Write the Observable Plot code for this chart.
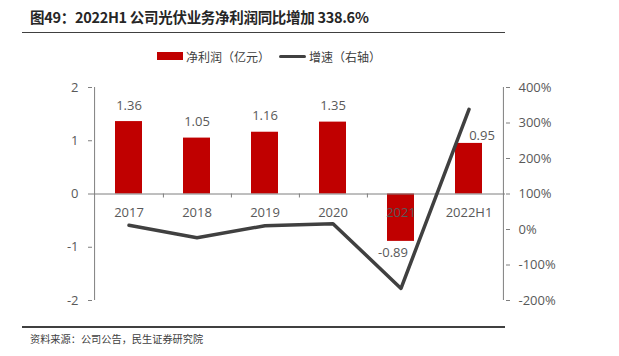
<!DOCTYPE html>
<html><head><meta charset="utf-8">
<script src="https://cdn.jsdelivr.net/npm/d3@7"></script>
<script src="https://cdn.jsdelivr.net/npm/@observablehq/plot@0.6"></script>
<style>
body{margin:0;background:#fff;font-family:"Open Sans","Noto Sans CJK SC",sans-serif;}
#wrap{position:relative;width:619px;height:356px;overflow:hidden;background:#fff}
#title{position:absolute;left:30px;top:6px;font-size:14.5px;font-weight:bold;color:#262626;white-space:nowrap;font-family:"Noto Sans CJK SC","Open Sans",sans-serif;letter-spacing:-0.3px}
.hr{position:absolute;left:22px;width:483px;height:1.5px;background:#404040}
#legend{position:absolute;top:48px;left:0;width:619px;height:18px;font-size:12px;color:#404040;font-family:"Noto Sans CJK SC",sans-serif}
.sw{position:absolute}
.lt{position:absolute;top:0;line-height:18px;white-space:nowrap}
#source{position:absolute;left:30px;top:331px;font-size:10.2px;color:#404040;font-family:"Noto Sans CJK SC",sans-serif;white-space:nowrap}
#chart{position:absolute;left:0;top:0}
</style>
</head><body><div id="wrap">
<div id="title">图49：2022H1 公司光伏业务净利润同比增加 338.6%</div>
<div class="hr" style="top:31.5px"></div>
<div id="chart"></div>
<div id="legend">
  <div class="sw" style="left:157px;top:4px;width:26px;height:8px;background:#C00000"></div>
  <div class="lt" style="left:186px" id="l1"></div>
  <div class="sw" style="left:279px;top:6.5px;width:27px;height:3.5px;border-radius:2px;background:#404040"></div>
  <div class="lt" style="left:309px" id="l2"></div>
</div>
<div class="hr" style="top:326px"></div>
<div id="source">资料来源：公司公告，民生证券研究院</div>
</div>
<script>
const categories = ["2017","2018","2019","2020","2021","2022H1"];
const profit = [1.36, 1.05, 1.16, 1.35, -0.89, 0.95];      // 净利润（亿元）
const growth = [12, -23, 10.5, 16.4, -165.9, 338.6];         // 增速 %（右轴）
const leftTicks = [-2, -1, 0, 1, 2];
const rightTicks = [-200, -100, 0, 100, 200, 300, 400];
const seriesNames = ["净利润（亿元）", "增速（右轴）"];

document.getElementById("l1").textContent = seriesNames[0];
document.getElementById("l2").textContent = seriesNames[1];

// map right-axis percent onto left-axis units (-200%..400% <-> -2..2)
const toLeft = p => (p - 100) / 150;
const fromLeft = v => Math.round(v * 150 + 100);

const data = categories.map((c, i) => ({cat: c, profit: profit[i], growth: growth[i], g: toLeft(growth[i])}));

const W = 619, H = 330, ML = 92, MR = 114, MT = 87, MB = 30;
const step = (W - ML - MR) / categories.length;
const txt = "#595959";
const font = "'Open Sans','Noto Sans CJK SC',sans-serif";

const normal = data.filter(d => d.profit >= 0 && d.cat !== "2022H1");
const neg = data.filter(d => d.profit < 0);
const last = data.filter(d => d.cat === "2022H1");

const chart = Plot.plot({
  width: W, height: H,
  marginTop: MT, marginBottom: MB, marginLeft: ML, marginRight: MR,
  style: {color: txt, fontFamily: font, fontSize: "13px", background: "transparent", overflow: "visible"},
  x: {domain: categories, paddingInner: 0.6, paddingOuter: 0.3, axis: null},
  y: {domain: [-2, 2], axis: null},
  marks: [
    Plot.barY(data, {x: "cat", y: "profit", fill: "#C00000"}),
    Plot.ruleY([0], {stroke: "#7f7f7f", strokeWidth: 1}),
    // x tick marks at band boundaries, below zero line
    Plot.ruleX(categories.slice(0, -1), {x: d => d, dx: step / 2, y1: 0, y2: -0.075, stroke: "#7f7f7f"}),
    // left axis line
    Plot.ruleX([categories[0]], {x: d => d, dx: -step / 2, y1: -2, y2: 2, stroke: "#7f7f7f"}),
    // right axis line
    Plot.ruleX([categories[categories.length - 1]], {x: d => d, dx: step / 2, y1: -2, y2: 2, stroke: "#7f7f7f"}),
    Plot.axisY(leftTicks, {anchor: "left", tickSize: 4, tickPadding: 10, stroke: "#7f7f7f", fill: txt, fontSize: 13, tickFormat: d => String(d)}),
    Plot.axisY(rightTicks.map(toLeft), {anchor: "right", tickSize: 4, tickPadding: 9, stroke: "#7f7f7f", fill: txt, fontSize: 13, tickFormat: d => fromLeft(d) + "%"}),
    Plot.text(data, {x: "cat", y: () => 0, text: "cat", dy: 19, fill: txt, fontSize: 13}),
    Plot.text(normal, {x: "cat", y: "profit", text: d => d.profit.toFixed(2), dy: -16, fill: txt, fontSize: 13}),
    Plot.text(neg, {x: "cat", y: "profit", text: d => d.profit.toFixed(2), dy: 11, dx: -8, fill: txt, fontSize: 13}),
    Plot.text(last, {x: "cat", y: "profit", text: d => d.profit.toFixed(2), dy: -8, dx: 13, fill: txt, fontSize: 13}),
    Plot.lineY(data, {x: "cat", y: "g", stroke: "#404040", strokeWidth: 3.5})
  ]
});
document.getElementById("chart").appendChild(chart);
</script>
</body></html>
